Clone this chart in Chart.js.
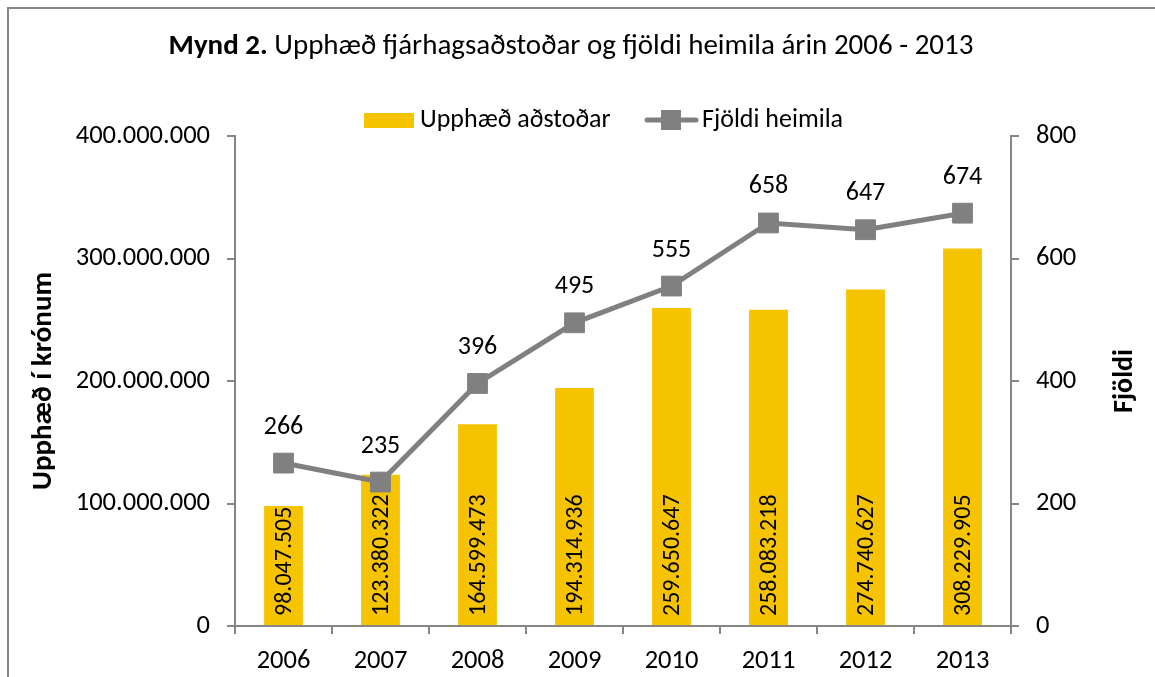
<!DOCTYPE html>
<html lang="is">
<head>
  <meta charset="UTF-8" />
  <title>Mynd 2</title>
  <script src="https://cdn.jsdelivr.net/npm/chart.js"></script>
  <style>
    body { margin: 0; background: #ffffff; overflow: hidden; }
    canvas { display: block; }
  </style>
</head>
<body>
  <canvas id="myChart" width="1155" height="677"></canvas>

  <script>
    const ar = ["2006", "2007", "2008", "2009", "2010", "2011", "2012", "2013"];
    const upphaed = [98047505, 123380322, 164599473, 194314936, 259650647, 258083218, 274740627, 308229905];
    const fjoldi = [266, 235, 396, 495, 555, 658, 647, 674];

    const FONT = "Carlito, Lato, sans-serif";
    const GRAR = "#868686";
    const GULUR = "#F5C300";
    const LINA = "#808080";

    function punktar(n) {
      return String(Math.round(n)).replace(/\B(?=(\d{3})+(?!\d))/g, ".");
    }

    // ramminn, titill, skýringar og gildismerki
    const teikning = {
      id: 'teikning',
      beforeDraw(chart) {
        const c = chart.ctx;
        c.save();
        c.strokeStyle = GRAR;
        c.lineWidth = 2;
        c.strokeRect(8, 8, 1300, 900);
        c.restore();
      },
      afterDatasetsDraw(chart) {
        const c = chart.ctx;
        c.save();
        c.fillStyle = "#000";

        // tölur í súlum
        c.font = "24px " + FONT;
        c.textAlign = "left";
        c.textBaseline = "middle";
        chart.getDatasetMeta(0).data.forEach((bar, i) => {
          c.save();
          c.translate(bar.x, bar.base - 9);
          c.rotate(-Math.PI / 2);
          c.fillText(punktar(upphaed[i]), 0, 1);
          c.restore();
        });

        // tölur yfir línu
        c.font = "26px " + FONT;
        c.textAlign = "center";
        chart.getDatasetMeta(1).data.forEach((pt, i) => {
          c.fillText(String(fjoldi[i]), pt.x, pt.y - 36);
        });
        c.restore();
      },
      afterDraw(chart) {
        const c = chart.ctx;
        c.save();
        c.fillStyle = "#000";
        c.textBaseline = "middle";

        // titill
        const feitt = "bold 29px " + FONT;
        const venjulegt = "29px " + FONT;
        const t1 = "Mynd 2.";
        const t2 = " Upphæð fjárhagsaðstoðar og fjöldi heimila árin 2006 - 2013";
        c.font = feitt;
        const w1 = c.measureText(t1).width;
        c.font = venjulegt;
        const w2 = c.measureText(t2).width;
        const x0 = 571 - (w1 + w2) / 2;
        c.textAlign = "left";
        c.font = feitt;
        c.fillText(t1, x0, 47);
        c.font = venjulegt;
        c.fillText(t2, x0 + w1, 47);

        // skýringar
        c.fillStyle = GULUR;
        c.fillRect(364, 113, 50, 15);
        c.fillStyle = "#000";
        c.font = "26px " + FONT;
        c.fillText("Upphæð aðstoðar", 420, 120);
        c.strokeStyle = LINA;
        c.lineWidth = 5;
        c.lineCap = "round";
        c.beginPath();
        c.moveTo(647, 120);
        c.lineTo(696, 120);
        c.stroke();
        c.fillStyle = LINA;
        c.fillRect(661, 110, 20, 20);
        c.fillStyle = "#000";
        c.fillText("Fjöldi heimila", 702, 120);

        // titill hægri áss, lesinn neðan frá
        const y1 = chart.scales.y1;
        c.save();
        c.translate(1125, (y1.top + y1.bottom) / 2);
        c.rotate(-Math.PI / 2);
        c.textAlign = "center";
        c.font = "bold 28px " + FONT;
        c.fillText("Fjöldi", 0, 0);
        c.restore();
        c.restore();
      }
    };

    const ctx = document.getElementById("myChart").getContext("2d");

    new Chart(ctx, {
      data: {
        labels: ar,
        datasets: [
          {
            type: "bar",
            label: "Upphæð aðstoðar",
            data: upphaed,
            backgroundColor: GULUR,
            categoryPercentage: 0.8,
            barPercentage: 0.5,
            yAxisID: "y",
            order: 1
          },
          {
            type: "line",
            label: "Fjöldi heimila",
            data: fjoldi,
            borderColor: LINA,
            borderWidth: 5,
            pointStyle: "rect",
            pointRadius: 14,
            pointBackgroundColor: LINA,
            pointBorderColor: LINA,
            pointBorderWidth: 1,
            tension: 0,
            yAxisID: "y1",
            order: 0
          }
        ]
      },
      options: {
        responsive: false,
        animation: false,
        layout: { padding: { top: 136, left: 0, right: 0, bottom: 0 } },
        plugins: {
          legend: { display: false },
          title: { display: false },
          tooltip: { enabled: false }
        },
        scales: {
          x: {
            afterFit: (s) => { s.height = 51; },
            grid: { drawOnChartArea: false, color: GRAR, lineWidth: 2, tickLength: 8 },
            border: { display: true, color: GRAR, width: 2 },
            ticks: { color: "#000", font: { family: FONT, size: 26.5 }, padding: 11 }
          },
          y: {
            position: "left",
            min: 0,
            max: 400000000,
            afterFit: (s) => { s.width = 235; },
            grid: { drawOnChartArea: false, color: GRAR, lineWidth: 2, tickLength: 8 },
            border: { display: true, color: GRAR, width: 2 },
            ticks: {
              stepSize: 100000000,
              color: "#000",
              padding: 17,
              font: { family: FONT, size: 26.5 },
              callback: (v) => punktar(v)
            },
            title: {
              display: true,
              text: "Upphæð í krónum",
              color: "#000",
              font: { family: FONT, size: 29, weight: "bold" },
              padding: { top: 26, bottom: 0 }
            }
          },
          y1: {
            position: "right",
            min: 0,
            max: 800,
            afterFit: (s) => { s.width = 144; },
            grid: { drawOnChartArea: false, color: GRAR, lineWidth: 2, tickLength: 8 },
            border: { display: true, color: GRAR, width: 2 },
            ticks: {
              stepSize: 200,
              color: "#000",
              padding: 17,
              font: { family: FONT, size: 26.5 }
            }
          }
        }
      },
      plugins: [teikning]
    });
  </script>
</body>
</html>
